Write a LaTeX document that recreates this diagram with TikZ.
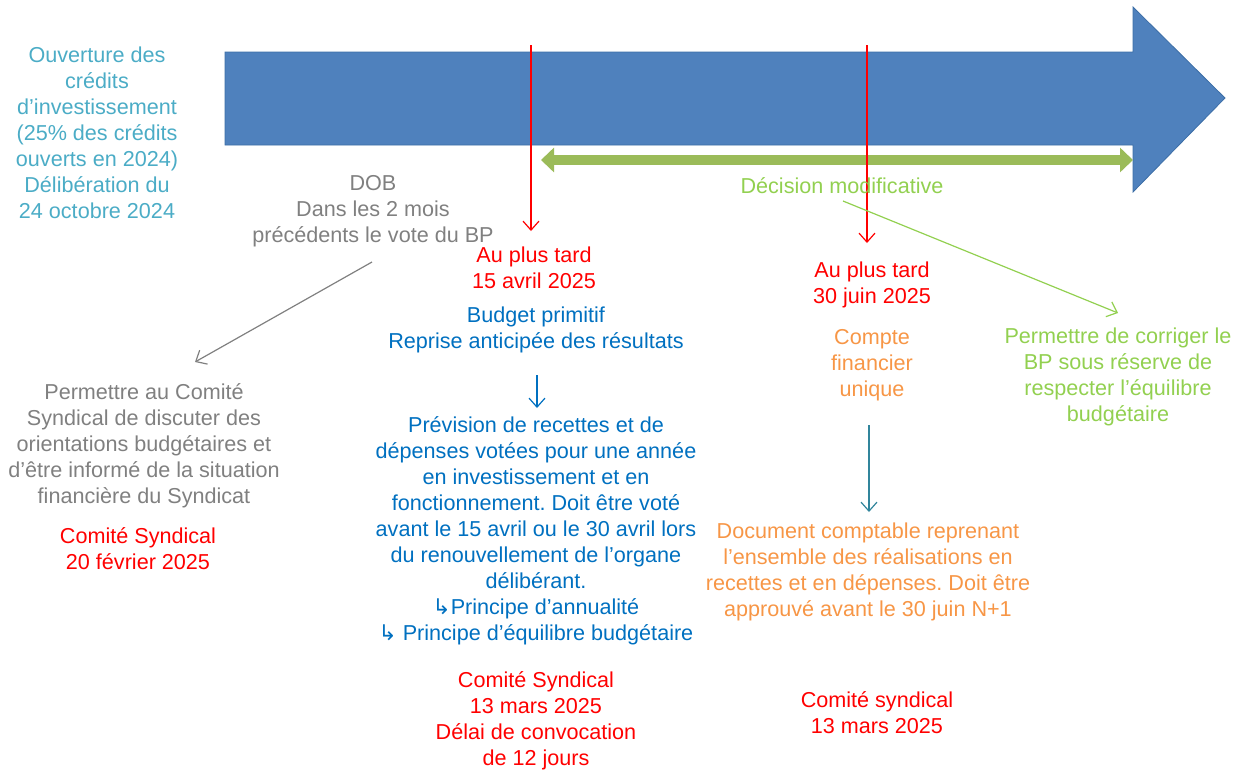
\documentclass[tikz,border=0pt]{standalone}
\usepackage{fontspec}
\setmainfont{Liberation Sans}
\newfontfamily\symfont{DejaVu Sans}
\usetikzlibrary{arrows.meta}
\definecolor{cyanT}{HTML}{4BACC6}
\definecolor{bigblue}{HTML}{4F81BD}
\definecolor{bigblueE}{HTML}{3C6EA6}
\definecolor{barG}{HTML}{9BBB59}
\definecolor{grayT}{HTML}{808080}
\definecolor{redT}{HTML}{FF0000}
\definecolor{blueT}{HTML}{0070C0}
\definecolor{orangeT}{HTML}{F79646}
\definecolor{greenT}{HTML}{92D050}
\definecolor{tealA}{HTML}{31859C}
\frenchspacing
\begin{document}
\begin{tikzpicture}[x=0.5pt,y=-0.5pt,
  txt/.style={align=center,inner sep=0pt,font=\fontsize{10.8pt}{13pt}\selectfont},
  thin arrow/.style={-{Straight Barb[length=4.5pt,width=8pt]},line width=0.6pt}]
\useasboundingbox (0,0) rectangle (1238,773);
% big arrow
\path[fill=bigblue,draw=bigblueE,line width=0.4pt]
  (225,52) -- (1133,52) -- (1133,7) -- (1225,98) -- (1133,192) -- (1133,145) -- (225,145) -- cycle;
% green double arrow
\coordinate (gL) at (541,160);
\coordinate (gR) at (1133,160);
\draw[barG,line width=5pt,{Triangle[length=6.5pt,width=12pt]}-{Triangle[length=6.5pt,width=12pt]}] (gL) -- (gR);
% red arrows
\coordinate (r1s) at (531,45);
\coordinate (r1e) at (531,231);
\coordinate (r2s) at (867,45);
\coordinate (r2e) at (867,243);
\draw[redT,thin arrow] (r1s) -- (r1e);
\draw[redT,thin arrow] (r2s) -- (r2e);
% left cyan text
\node[txt,text=cyanT] (ouv) at (97,133) {Ouverture des\\crédits\\d’investissement\\(25\% des crédits\\ouverts en 2024)\\Délibération du\\24 octobre 2024};
% DOB
\node[txt,text=grayT] (dob) at (373,211) {DOB\\Dans les 2 mois\\précédents le vote du BP};
\coordinate (g1s) at (372,262);
\coordinate (g1e) at (195,362);
\draw[grayT,thin arrow] (g1s) -- (g1e);
\node[txt,text=grayT] (perm) at (144,446) {Permettre au Comité\\Syndical de discuter des\\orientations budgétaires et\\d’être informé de la situation\\financière du Syndicat};
\node[txt,text=redT] (cs1) at (138,549) {Comité Syndical\\20 février 2025};
% BP column
\node[txt,text=redT] (apt1) at (534,268) {Au plus tard\\15 avril 2025};
\node[txt,text=blueT] (bp) at (536,330) {Budget primitif\\Reprise anticipée des résultats};
\coordinate (b1s) at (537,375);
\coordinate (b1e) at (537,408);
\draw[blueT,thin arrow] (b1s) -- (b1e);
\node[txt,text=blueT] (prev) at (536,531) {Prévision de recettes et de\\dépenses votées pour une année\\en investissement et en\\fonctionnement. Doit être voté\\avant le 15 avril ou le 30 avril lors\\du renouvellement de l’organe\\délibérant.\\{\symfont ↳}Principe d’annualité\\{\symfont ↳} Principe d’équilibre budgétaire};
\node[txt,text=redT] (cs2) at (536,721) {Comité Syndical\\13 mars 2025\\Délai de convocation\\de 12 jours};
% CFU column
\node[txt,text=redT] (apt2) at (872,285) {Au plus tard\\30 juin 2025};
\node[txt,text=orangeT] (cfu) at (872,365) {Compte\\financier\\unique};
\coordinate (t1s) at (869,425);
\coordinate (t1e) at (869,512);
\draw[tealA,thin arrow] (t1s) -- (t1e);
\node[txt,text=orangeT] (doc) at (868,572) {Document comptable reprenant\\l’ensemble des réalisations en\\recettes et en dépenses. Doit être\\approuvé avant le 30 juin N+1};
\node[txt,text=redT] (cs3) at (877,713) {Comité syndical\\13 mars 2025};
% DM
\node[txt,text=greenT] (dm) at (842,186) {Décision modificative};
\coordinate (dms) at (843,201);
\coordinate (dme) at (1118,313);
\draw[greenT,thin arrow] (dms) -- (dme);
\node[txt,text=greenT] (corr) at (1118,377) {Permettre de corriger le\\BP sous réserve de\\respecter l’équilibre\\budgétaire};
\end{tikzpicture}
\end{document}
